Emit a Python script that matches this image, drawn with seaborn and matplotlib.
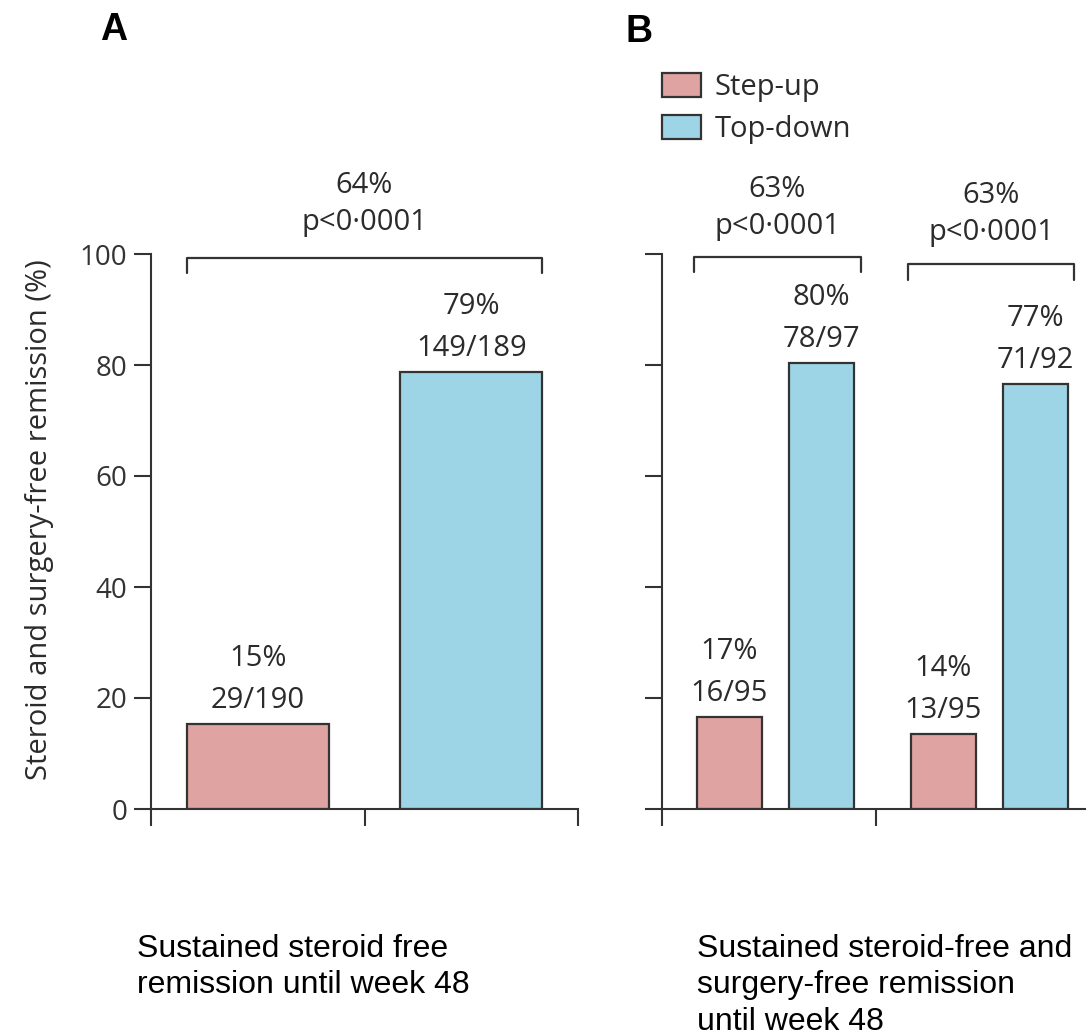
import pandas as pd
import matplotlib.pyplot as plt
import seaborn as sns

# Data
groups = ['Step-up', 'Top-down']
colors = ['#DFA3A1', '#9DD5E6']

# Panel A: sustained steroid free remission until week 48
a_values = [15.3, 78.8]
a_pct = ['15%', '79%']
a_frac = ['29/190', '149/189']
a_diff = '64%'
a_pval = 'p<0·0001'

# Panel B: two comparisons of steroid-free and surgery-free remission
b_cats = ['Comparison 1', 'Comparison 2']
b_stepup = [16.6, 13.5]
b_topdown = [80.4, 76.6]
b_pct = ['17%', '80%', '14%', '77%']
b_frac = ['16/95', '78/97', '13/95', '71/92']
b_diff = ['63%', '63%']
b_pval = ['p<0·0001', 'p<0·0001']

captions = ['Sustained steroid free\nremission until week 48',
            'Sustained steroid-free and\nsurgery-free remission\nuntil week 48']

sns.set_style('ticks')
plt.rcParams['font.family'] = ['Open Sans', 'DejaVu Sans']
dark = '#333333'
plt.rcParams['axes.edgecolor'] = dark
plt.rcParams['xtick.color'] = dark
plt.rcParams['ytick.color'] = dark
plt.rcParams['text.color'] = '#2b2b2b'

df_a = pd.DataFrame({'group': groups, 'value': a_values})
df_b = pd.DataFrame({'cat': b_cats * 2,
                     'group': [groups[0]] * 2 + [groups[1]] * 2,
                     'value': b_stepup + b_topdown})

W, H = 1086, 1036
fig = plt.figure(figsize=(W / 100, H / 100), dpi=100)
ax_a = fig.add_axes([151 / W, (H - 809) / H, 427 / W, 555 / H])
ax_b = fig.add_axes([662 / W, (H - 809) / H, 428 / W, 555 / H])

pal = dict(zip(groups, colors))
sns.barplot(data=df_a, x='group', y='value', hue='group', palette=pal,
            saturation=1, width=0.665, edgecolor=dark, linewidth=1.6,
            legend=False, ax=ax_a)
sns.barplot(data=df_b, x='cat', y='value', hue='group', hue_order=groups,
            palette=pal, saturation=1, width=0.86, gap=0.3, edgecolor=dark,
            linewidth=1.6, ax=ax_b)

for ax, x0 in [(ax_a, -0.5), (ax_b, -0.53)]:
    ax.set_xlim(x0, x0 + 2)
    ax.set_ylim(0, 100)
    ax.set_xticks([x0, x0 + 1, x0 + 2])
    ax.set_xticklabels([])
    ax.set_yticks(range(0, 101, 20))
    ax.set_xlabel('')
    ax.set_ylabel('')
    ax.tick_params(length=12, width=1.5, labelsize=20, pad=5)
    for s in ['left', 'bottom']:
        ax.spines[s].set_linewidth(1.5)
    sns.despine(ax=ax)
ax_b.tick_params(labelleft=False)


def label_bars(ax, pcts, fracs):
    bars = [p for p in ax.patches if p.get_height() > 0]
    bars = sorted(bars, key=lambda p: p.get_x())
    for bar, pct, frac in zip(bars, pcts, fracs):
        xc = bar.get_x() + bar.get_width() / 2
        h = bar.get_height()
        ax.annotate(frac, (xc, h), xytext=(0, 17), textcoords='offset points',
                    ha='center', va='center', fontsize=21)
        ax.annotate(pct, (xc, h), xytext=(0, 47), textcoords='offset points',
                    ha='center', va='center', fontsize=21)


label_bars(ax_a, a_pct, a_frac)
label_bars(ax_b, b_pct, b_frac)


def bracket(ax, x1, x2, y, drop, diff, pval, ytxt):
    ax.plot([x1, x1, x2, x2], [y - drop, y, y, y - drop], color=dark,
            lw=1.6, clip_on=False)
    xm = (x1 + x2) / 2
    ax.text(xm, ytxt + 6.8, diff, ha='center', va='center', fontsize=21)
    ax.text(xm, ytxt, pval, ha='center', va='center', fontsize=21)


bracket(ax_a, -0.333, 1.333, 99.3, 2.7, a_diff, a_pval, 105.6)
bracket(ax_b, -0.38, 0.40, 99.5, 2.7, b_diff[0], b_pval[0], 104.9)
bracket(ax_b, 0.62, 1.395, 98.2, 2.9, b_diff[1], b_pval[1], 103.8)

sns.move_legend(ax_b, 'upper left', bbox_to_anchor=(0, 1.326), frameon=False,
                title=None, borderaxespad=0, borderpad=0, fontsize=21,
                handlelength=1.35, handleheight=0.85, handletextpad=0.45,
                labelspacing=0.45)

fig.text(40 / W, 1 - 520 / H, 'Steroid and surgery-free remission (%)',
         rotation=90, ha='center', va='center', fontsize=21)
fig.text(100 / W, 1 - 30 / H, 'A', fontsize=27, fontweight='bold',
         family='Liberation Sans', ha='left', va='center', color='black')
fig.text(625 / W, 1 - 32 / H, 'B', fontsize=27, fontweight='bold',
         family='Liberation Sans', ha='left', va='center', color='black')
fig.text(137 / W, 1 - 934 / H, captions[0], fontsize=23, ha='left', va='top',
         family='Liberation Sans', color='black', linespacing=1.28)
fig.text(697 / W, 1 - 934 / H, captions[1], fontsize=23, ha='left', va='top',
         family='Liberation Sans', color='black', linespacing=1.28)

fig.savefig('out.png', dpi=100)
